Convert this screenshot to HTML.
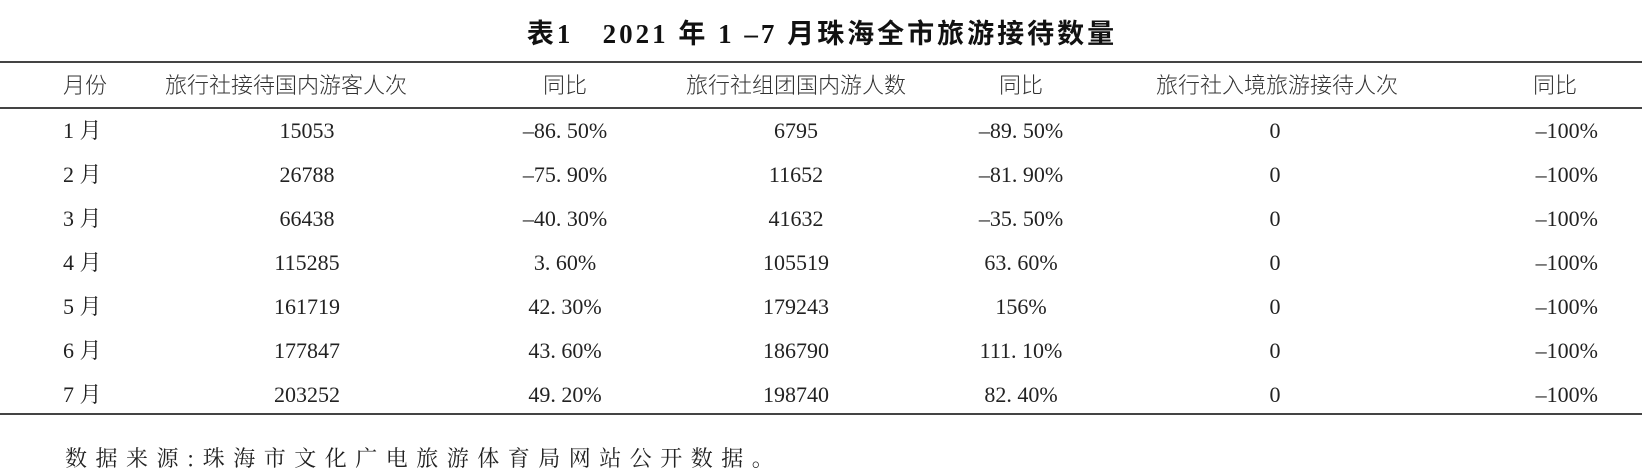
<!DOCTYPE html>
<html><head><meta charset="utf-8"><style>
body{margin:0;width:1642px;height:463px;background:#fff;position:relative;overflow:hidden;color:#222;font-family:"Liberation Serif","Noto Serif CJK SC",serif;}
.t{position:absolute;white-space:nowrap;font-size:22px;line-height:26px;transform:translate(-50%,-50%);}
.l{position:absolute;white-space:nowrap;font-size:22px;line-height:26px;transform:translateY(-50%);}
.r{position:absolute;white-space:nowrap;font-size:22px;line-height:26px;transform:translate(-100%,-50%);}
.cjk{font-family:"Noto Sans CJK SC",sans-serif;font-weight:300;color:#333;}
.rule{position:absolute;left:0;width:1642px;background:#444;}
</style></head><body>
<div class="t" style="left:822px;top:34px;font-weight:bold;font-size:27px;line-height:32px;letter-spacing:3px;font-family:'Liberation Serif','Noto Sans CJK SC',sans-serif;color:#111;">表1&nbsp;&nbsp;&nbsp;2021 年 1 –7 月珠海全市旅游接待数量</div>
<div class="rule" style="top:61px;height:2px"></div>
<div class="rule" style="top:107px;height:1.5px"></div>
<div class="rule" style="top:413px;height:2px"></div>
<div class="l cjk" style="left:63px;top:84px">月份</div>
<div class="t cjk" style="left:286px;top:84px">旅行社接待国内游客人次</div>
<div class="t cjk" style="left:565px;top:84px">同比</div>
<div class="t cjk" style="left:796px;top:84px">旅行社组团国内游人数</div>
<div class="t cjk" style="left:1021px;top:84px">同比</div>
<div class="t cjk" style="left:1277px;top:84px">旅行社入境旅游接待人次</div>
<div class="t cjk" style="left:1555px;top:84px">同比</div>
<div id="rows"></div>
<div class="l" style="left:65px;top:458px;font-family:'Noto Serif CJK SC',serif;letter-spacing:8.5px;">数据来源:珠海市文化广电旅游体育局网站公开数据。</div>
<script>
var d=[["1 月","15053","–86. 50%","6795","–89. 50%"],["2 月","26788","–75. 90%","11652","–81. 90%"],["3 月","66438","–40. 30%","41632","–35. 50%"],["4 月","115285","3. 60%","105519","63. 60%"],["5 月","161719","42. 30%","179243","156%"],["6 月","177847","43. 60%","186790","111. 10%"],["7 月","203252","49. 20%","198740","82. 40%"]];
var h="";d.forEach(function(r,i){var y=131+i*44;
h+='<div class="l" style="left:63px;top:'+y+'px">'+r[0]+'</div>';
h+='<div class="t" style="left:307px;top:'+y+'px">'+r[1]+'</div>';
h+='<div class="t" style="left:565px;top:'+y+'px">'+r[2]+'</div>';
h+='<div class="t" style="left:796px;top:'+y+'px">'+r[3]+'</div>';
h+='<div class="t" style="left:1021px;top:'+y+'px">'+r[4]+'</div>';
h+='<div class="t" style="left:1275px;top:'+y+'px">0</div>';
h+='<div class="r" style="left:1598px;top:'+y+'px">–100%</div>';});
document.getElementById("rows").innerHTML=h;
</script>
</body></html>
